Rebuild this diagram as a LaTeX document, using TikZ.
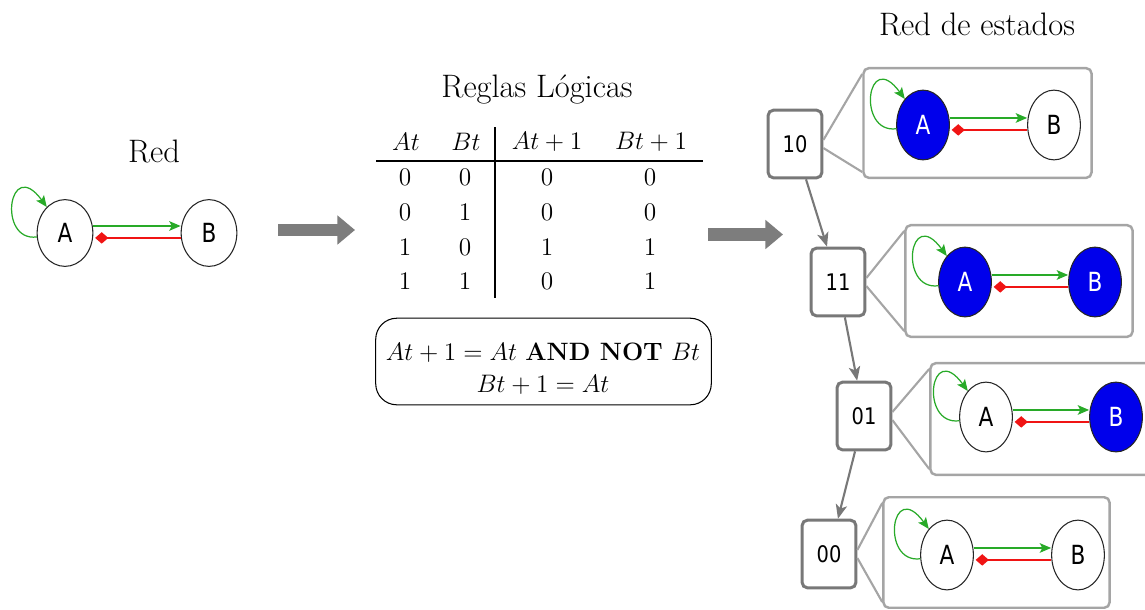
\documentclass[tikz,border=0pt]{standalone}
\usepackage{fontspec}
\usetikzlibrary{arrows.meta,shapes.geometric}
\newfontfamily\sansnet{DejaVu Sans}

\definecolor{actgreen}{RGB}{40,170,40}
\definecolor{inhred}{RGB}{240,20,20}
\definecolor{onblue}{RGB}{0,0,235}
\definecolor{boxgray}{RGB}{120,120,120}
\definecolor{panelgray}{RGB}{165,165,165}
\definecolor{arrowgray}{RGB}{125,125,125}

% slightly condensed sans labels
\newcommand\narrowtxt[2][0.82]{\scalebox{#1}[1]{#2}}

\tikzset{
  gene/.style={ellipse, draw=black!85, line width=0.6pt, inner sep=0pt,
    minimum width=30pt, minimum height=39.7pt, fill=white, text=black,
    font=\sansnet\fontsize{15}{15}\selectfont},
  genebig/.style={minimum width=31.7pt, minimum height=38pt},
  geneon/.style={fill=onblue, text=white},
  activa/.style={draw=actgreen, line width=0.7pt,
    -{Stealth[length=6.5pt,width=5.5pt,inset=1.5pt]}},
  inhibe/.style={draw=inhred, line width=0.7pt,
    -{Diamond[length=7.5pt,width=6.5pt]}, shorten >=1pt},
  estado/.style={draw=boxgray, line width=1.7pt, rounded corners=3pt,
    fill=white, minimum width=30.6pt, minimum height=38.5pt, inner sep=0pt,
    font=\sansnet\fontsize{13}{13}\selectfont},
  panel/.style={draw=panelgray, line width=1.4pt, rounded corners=3pt,
    fill=white, inner sep=0pt},
  zoomline/.style={draw=panelgray, line width=1.2pt},
  trans/.style={draw=boxgray, line width=1.2pt,
    -{Stealth[length=8pt,width=6.5pt,inset=2pt]}},
  paso/.style={draw=arrowgray, line width=7pt,
    -{Triangle[length=10pt,width=16pt]}},
  titulo/.style={font=\fontsize{18.5}{22}\selectfont, anchor=base, inner sep=0pt},
  celda/.style={font=\fontsize{14.3}{18.1}\selectfont, inner sep=0pt},
}

% two-gene network: prefix, y, x of A, x of B, style of A, style of B
\newcommand\redgenes[6]{%
  \node[gene,#5] (#1A) at (#3,#2) {\narrowtxt{A}};
  \node[gene,#6] (#1B) at (#4,#2) {\narrowtxt{B}};
  \draw[activa] ([yshift=4pt]#1A.east) -- ([yshift=4pt]#1B.west);
  \draw[inhibe] ([yshift=-2.8pt]#1B.west) -- ([yshift=-2.8pt]#1A.east);
  \draw[activa] (#1A.188) .. controls +(-40,5) and +(-38,-52) .. (#1A.125);
}

\begin{document}
\begin{tikzpicture}[x=0.02cm, y=-0.02cm]
  \useasboundingbox (0,0) rectangle (1145,609);
  \clip (0,0) rectangle (1145,609);

  % --- network
  \node[titulo] (tred) at (154,162) {Red};
  \redgenes{n}{233}{65}{209}{genebig}{genebig}

  % --- step arrows
  \coordinate (pa1) at (278,230);
  \coordinate (pa2) at (355,230);
  \draw[paso] (pa1) -- (pa2);
  \coordinate (pb1) at (708,234.5);
  \coordinate (pb2) at (783,234.5);
  \draw[paso] (pb1) -- (pb2);

  % --- truth table
  \node[titulo] (treg) at (537,97) {Reglas Lógicas};
  \node[celda] (hA)  at (406,142) {$At$};
  \node[celda] (hB)  at (466,142) {$Bt$};
  \node[celda] (hA1) at (547,142) {$At+1$};
  \node[celda] (hB1) at (651,142) {$Bt+1$};
  \foreach \yy/\va/\vb/\vc/\vd [count=\r] in
      {177/0/0/0/0, 212/0/1/0/0, 247/1/0/1/1, 281/1/1/0/1} {
    \node[celda] (c\r a) at (405,\yy) {$\va$};
    \node[celda] (c\r b) at (465,\yy) {$\vb$};
    \node[celda] (c\r c) at (547,\yy) {$\vc$};
    \node[celda] (c\r d) at (650,\yy) {$\vd$};
  }
  \coordinate (hl0) at (376,161);
  \coordinate (hl1) at (703,161);
  \coordinate (vl0) at (495,127);
  \coordinate (vl1) at (495,298);
  \draw[line width=0.7pt] (hl0) -- (hl1);
  \draw[line width=0.7pt] (vl0) -- (vl1);

  % --- rules
  \node[draw, line width=0.6pt, rounded corners=12pt, minimum width=191pt,
        minimum height=49.3pt, inner sep=0pt] (fbox) at (543.5,361.5) {};
  \node[celda, align=center] (ftext) at (543,369)
    {$At+1=At$ \textbf{AND NOT} $Bt$\\ $Bt+1=At$};

  % --- state network
  \node[titulo] (test) at (977,35) {Red de estados};

  \node[estado] (s10) at (795,144) {\narrowtxt[0.85]{10}};
  \node[estado] (s11) at (838,282) {\narrowtxt[0.85]{11}};
  \node[estado] (s01) at (864,416) {\narrowtxt[0.85]{01}};
  \node[estado] (s00) at (829,554) {\narrowtxt[0.85]{00}};

  \node[panel, minimum width=129.8pt, minimum height=62.4pt] (p1) at (977.5,123) {};
  \node[panel, minimum width=129.3pt, minimum height=63.5pt] (p2) at (1019,281) {};
  \node[panel, minimum width=129.3pt, minimum height=63.5pt] (p3) at (1044,419) {};
  \node[panel, minimum width=128.7pt, minimum height=62.9pt] (p4) at (996.5,552.5) {};

  \foreach \s/\p in {s10/p1, s11/p2, s01/p3, s00/p4} {
    \draw[zoomline] ([yshift=2.3pt]\s.east) -- ([yshift=-4pt]\p.north west);
    \draw[zoomline] ([yshift=-2.3pt]\s.east) -- ([yshift=4pt]\p.south west);
  }

  \draw[trans] (s10) -- (s11);
  \draw[trans] (s11) -- (s01);
  \draw[trans] (s01) -- (s00);

  \redgenes{a}{125}{923}{1054}{geneon}{}
  \redgenes{b}{282}{965}{1095}{geneon}{geneon}
  \redgenes{c}{417}{986}{1116}{}{geneon}
  \redgenes{d}{555}{947}{1078}{}{}
\end{tikzpicture}
\end{document}
